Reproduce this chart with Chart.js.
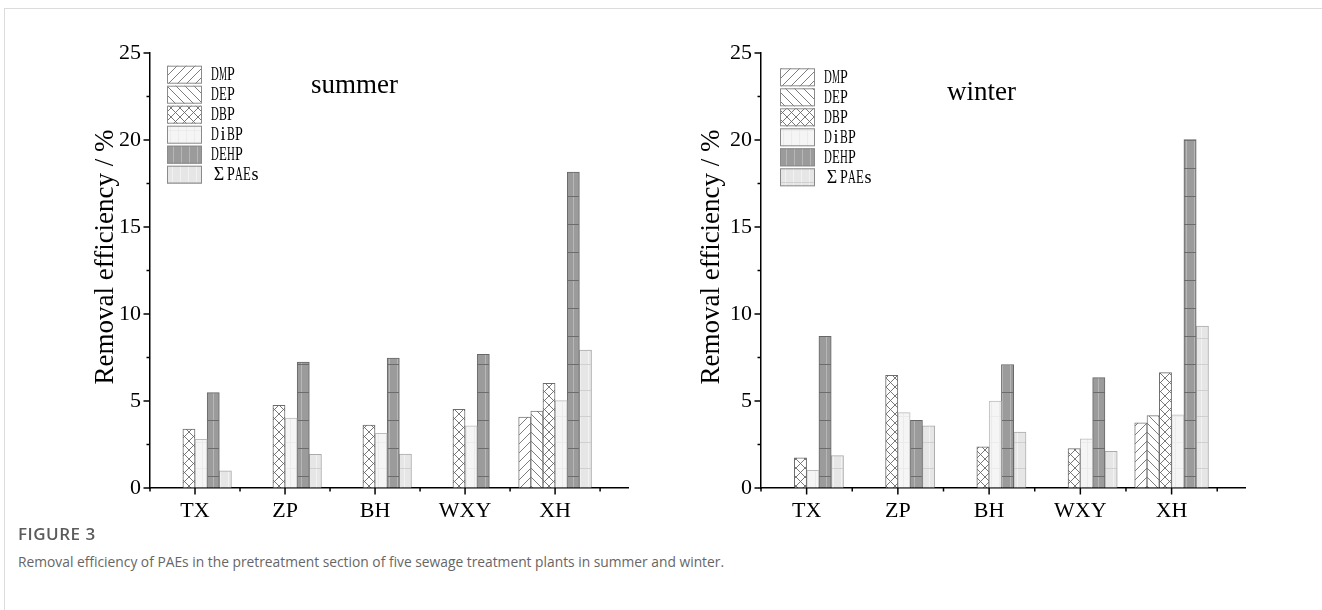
<!DOCTYPE html>
<html>
<head>
<meta charset="utf-8">
<script src="https://cdn.jsdelivr.net/npm/chart.js@4.4.1/dist/chart.umd.min.js"></script>
<style>
  html, body { margin: 0; padding: 0; background: #fff; }
  body { width: 1322px; height: 610px; position: relative; overflow: hidden; font-family: "Open Sans", "Noto Sans", sans-serif; }
  #frame { position: absolute; left: 4px; top: 8px; right: 0; bottom: 0; border-top: 1px solid #dcdcdc; border-left: 1px solid #dcdcdc; }
  canvas { position: absolute; top: 0; }
  #summerChart { left: 0; }
  #winterChart { left: 661px; }
  #figLabel { position: absolute; left: 18px; top: 522px; font-size: 17px; font-weight: 600; color: #5b5b5b; letter-spacing: 0.5px; }
  #figCaption { position: absolute; left: 18px; top: 552px; font-size: 13.8px; color: #666; }
</style>
</head>
<body>
<div id="frame"></div>
<canvas id="summerChart" width="661" height="530"></canvas>
<canvas id="winterChart" width="661" height="530"></canvas>
<div id="figLabel">FIGURE 3</div>
<div id="figCaption">Removal efficiency of PAEs in the pretreatment section of five sewage treatment plants in summer and winter.</div>
<script>
// Sewage treatment plants and phthalate esters
const categories = ['TX', 'ZP', 'BH', 'WXY', 'XH'];
const compounds = ['DMP', 'DEP', 'DBP', 'DiBP', 'DEHP', 'ΣPAEs'];
const yTickValues = [0, 5, 10, 15, 20, 25];
const yAxisTitle = 'Removal efficiency / %';

// Removal efficiency (%) in summer
const summerDMP  = [0, 0, 0, 0, 4.08];
const summerDEP  = [0, 0, 0, 0, 4.42];
const summerDBP  = [3.39, 4.75, 3.62, 4.52, 6.02];
const summerDiBP = [2.80, 4.02, 3.14, 3.58, 5.02];
const summerDEHP = [5.48, 7.24, 7.47, 7.68, 18.16];
const summerPAEs = [0.98, 1.94, 1.95, 0, 7.93];

// Removal efficiency (%) in winter
const winterDMP  = [0, 0, 0, 0, 3.74];
const winterDEP  = [0, 0, 0, 0, 4.16];
const winterDBP  = [1.74, 6.48, 2.36, 2.26, 6.63];
const winterDiBP = [1.02, 4.33, 5.00, 2.82, 4.20];
const winterDEHP = [8.72, 3.89, 7.10, 6.34, 20.03];
const winterPAEs = [1.86, 3.58, 3.22, 2.11, 9.31];

const serif = '"Liberation Serif", "Times New Roman", serif';

// ---- fill patterns for each compound ----
function tile(w, h, paint) {
  const c = document.createElement('canvas');
  c.width = w; c.height = h;
  const g = c.getContext('2d');
  paint(g, w, h);
  return g.createPattern(c, 'repeat');
}
function seg(g, x1, y1, x2, y2) { g.beginPath(); g.moveTo(x1, y1); g.lineTo(x2, y2); g.stroke(); }

const fills = {
  DMP: tile(9, 9, (g, w, h) => {
    g.fillStyle = '#fff'; g.fillRect(0, 0, w, h);
    g.strokeStyle = '#6e6e6e'; g.lineWidth = 0.9;
    seg(g, -1, h + 1, w + 1, -1); seg(g, -2, 1, 1, -2); seg(g, w - 1, h + 2, w + 2, h - 1);
  }),
  DEP: tile(9, 9, (g, w, h) => {
    g.fillStyle = '#fff'; g.fillRect(0, 0, w, h);
    g.strokeStyle = '#6e6e6e'; g.lineWidth = 0.9;
    seg(g, -1, -1, w + 1, h + 1); seg(g, w - 1, -2, w + 2, 1); seg(g, -2, h - 1, 1, h + 2);
  }),
  DBP: tile(9, 9, (g, w, h) => {
    g.fillStyle = '#fff'; g.fillRect(0, 0, w, h);
    g.strokeStyle = '#6a6a6a'; g.lineWidth = 0.9;
    seg(g, -1, h + 1, w + 1, -1); seg(g, -1, -1, w + 1, h + 1);
  }),
  DiBP: tile(8, 26, (g, w, h) => {
    g.fillStyle = '#f5f5f5'; g.fillRect(0, 0, w, h);
    g.fillStyle = '#ebebeb'; g.fillRect(2, 0, 1, h); g.fillRect(0, 0, w, 1);
  }),
  DEHP: tile(8, 28, (g, w, h) => {
    g.fillStyle = '#9b9b9b'; g.fillRect(0, 0, w, h);
    g.fillStyle = '#b7b7b7'; g.fillRect(5, 0, 1, h);
    g.fillStyle = '#6c6c6c'; g.fillRect(0, 0, w, 1);
  }),
  PAEs: tile(8, 26, (g, w, h) => {
    g.fillStyle = '#e6e6e6'; g.fillRect(0, 0, w, h);
    g.fillStyle = '#f2f2f2'; g.fillRect(4, 0, 1, h);
    g.fillStyle = '#d0d0d0'; g.fillRect(0, 0, w, 1);
  })
};
const borders = { DMP: '#777', DEP: '#777', DBP: '#6c6c6c', DiBP: '#bcbcbc', DEHP: '#676767', PAEs: '#ababab' };
const keys = ['DMP', 'DEP', 'DBP', 'DiBP', 'DEHP', 'PAEs'];

// ---- plugins ----
// Origin-style tick marks: long at labelled values, short in between
const axisTicks = {
  id: 'axisTicks',
  afterDraw(chart) {
    const { ctx, chartArea, scales } = chart;
    ctx.save();
    ctx.strokeStyle = '#000';
    ctx.lineWidth = 1.5;
    scales.y.ticks.forEach(t => {
      const py = scales.y.getPixelForValue(t.value);
      const len = yTickValues.includes(t.value) ? 6.5 : 3.5;
      seg(ctx, chartArea.left - len, py, chartArea.left, py);
    });
    scales.x.ticks.forEach(t => {
      const px = scales.x.getPixelForValue(t.value);
      const len = Number.isInteger(t.value) ? 6.5 : 3.5;
      seg(ctx, px, chartArea.bottom, px, chartArea.bottom + len);
    });
    ctx.restore();
  }
};

// Rotated y-axis caption, placed relative to the plot area
const axisCaption = {
  id: 'axisCaption',
  afterDraw(chart, args, o) {
    const { ctx, chartArea } = chart;
    ctx.save();
    ctx.translate(chartArea.left + o.dx, chartArea.top + o.dy);
    ctx.rotate(-Math.PI / 2);
    ctx.fillStyle = '#000';
    ctx.font = o.size + 'px ' + serif;
    ctx.textAlign = 'center';
    ctx.textBaseline = 'middle';
    ctx.fillText(o.text, 0, 0);
    ctx.restore();
  }
};

// Boxed legend inside the plot, half-width glyph cells like a CJK song face
const boxLegend = {
  id: 'boxLegend',
  afterDraw(chart, args, o) {
    const { ctx, chartArea } = chart;
    ctx.save();
    chart.data.datasets.forEach((ds, i) => {
      const bx = chartArea.left + o.boxX;
      const by = chartArea.top + o.boxY + i * o.rowGap;
      ctx.fillStyle = ds.backgroundColor;
      ctx.fillRect(bx, by, o.boxW, o.boxH);
      ctx.strokeStyle = '#8a8a8a';
      ctx.lineWidth = 1;
      ctx.strokeRect(bx + 0.5, by + 0.5, o.boxW - 1, o.boxH - 1);
      ctx.fillStyle = '#000';
      ctx.font = '18px ' + serif;
      ctx.textBaseline = 'middle';
      ctx.textAlign = 'center';
      let cx = chartArea.left + o.textX;
      for (const ch of ds.label) {
        const cell = ch === 'Σ' ? 16 : 8;
        ctx.fillText(ch, cx + cell / 2, by + o.boxH / 2 + 1, cell - 0.2);
        cx += cell;
      }
    });
    ctx.restore();
  }
};

// Season name written inside the plot area
const seasonTitle = {
  id: 'seasonTitle',
  afterDraw(chart, args, o) {
    const { ctx, chartArea } = chart;
    ctx.save();
    ctx.fillStyle = '#000';
    ctx.font = '27px ' + serif;
    ctx.textBaseline = 'alphabetic';
    ctx.textAlign = 'left';
    ctx.fillText(o.text, chartArea.left + o.dx, chartArea.top + o.dy);
    ctx.restore();
  }
};

function makeChart(id, series, cfg) {
  const datasets = keys.map((k, i) => ({
    label: compounds[i],
    data: categories.map((c, j) => ({ x: j + 1, y: series[i][j] })),
    backgroundColor: fills[k],
    borderColor: borders[k],
    borderWidth: 1,
    borderSkipped: 'bottom',
    barThickness: cfg.barThickness
  }));
  return new Chart(document.getElementById(id), {
    type: 'bar',
    data: { datasets },
    options: {
      responsive: false,
      animation: false,
      devicePixelRatio: 1,
      layout: { padding: { left: 0, top: 53, right: cfg.padRight, bottom: 0 } },
      scales: {
        x: {
          type: 'linear',
          offset: false,
          min: 0.5,
          max: 5.81,
          afterFit: s => { s.height = 42; },
          grid: { display: true, offset: false, drawOnChartArea: false, drawTicks: true, tickLength: 6, color: 'rgba(0,0,0,0)' },
          border: { display: true, color: '#000', width: 1.5 },
          ticks: {
            stepSize: 0.5,
            includeBounds: false,
            autoSkip: false,
            maxRotation: 0,
            padding: 4,
            color: '#000',
            font: { family: serif, size: 22 },
            callback: v => Number.isInteger(v) ? categories[v - 1] : ''
          }
        },
        y: {
          min: 0,
          max: 25,
          afterFit: s => { s.width = cfg.yWidth; },
          grid: { display: true, drawOnChartArea: false, drawTicks: true, tickLength: 6, color: 'rgba(0,0,0,0)' },
          border: { display: true, color: '#000', width: 1.5 },
          ticks: {
            stepSize: 2.5,
            autoSkip: false,
            padding: 3,
            color: '#000',
            font: { family: serif, size: 22 },
            callback: v => yTickValues.includes(v) ? String(v) : ''
          },
          title: { display: false }
        }
      },
      plugins: {
        legend: { display: false },
        tooltip: { enabled: false },
        axisCaption: cfg.caption,
        boxLegend: cfg.legend,
        seasonTitle: cfg.season
      }
    },
    plugins: [axisTicks, axisCaption, boxLegend, seasonTitle]
  });
}

makeChart('summerChart',
  [summerDMP, summerDEP, summerDBP, summerDiBP, summerDEHP, summerPAEs],
  {
    yWidth: 150, padRight: 33, barThickness: 12.15,
    caption: { text: yAxisTitle, size: 27, dx: -44, dy: 204 },
    legend: { boxX: 17, boxY: 12.7, rowGap: 20, boxW: 35, boxH: 18, textX: 61 },
    season: { text: 'summer', dx: 161, dy: 40 }
  });

makeChart('winterChart',
  [winterDMP, winterDEP, winterDBP, winterDiBP, winterDEHP, winterPAEs],
  {
    yWidth: 100, padRight: 76.5, barThickness: 12.3,
    caption: { text: yAxisTitle, size: 27, dx: -49, dy: 204 },
    legend: { boxX: 19, boxY: 15.3, rowGap: 20, boxW: 35, boxH: 18, textX: 63 },
    season: { text: 'winter', dx: 186, dy: 47 }
  });
</script>
</body>
</html>
